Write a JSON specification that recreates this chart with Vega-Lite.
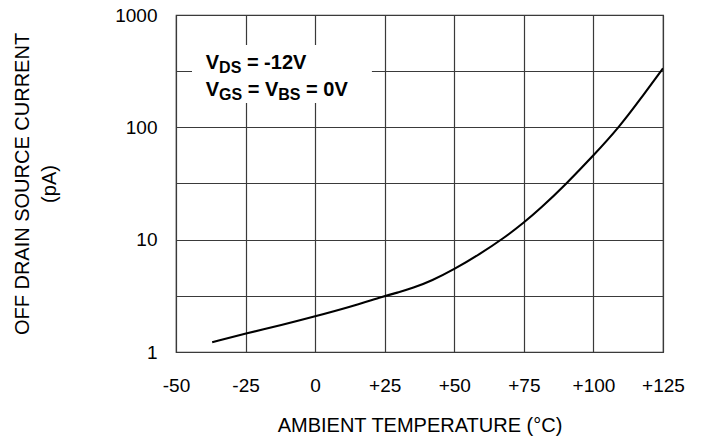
{
  "$schema": "https://vega.github.io/schema/vega-lite/v6.json",
  "width": 487,
  "height": 337,
  "autosize": "none",
  "padding": {"left": 176, "top": 15, "right": 40, "bottom": 84},
  "background": "white",
  "config": {
    "font": "Liberation Sans",
    "view": {"stroke": "#333333", "strokeWidth": 1.2},
    "axis": {
      "labelFont": "Liberation Sans",
      "titleFont": "Liberation Sans",
      "labelColor": "black",
      "titleColor": "black",
      "labelFontSize": 19,
      "titleFontSize": 20,
      "titleFontWeight": "normal",
      "ticks": false,
      "domain": false,
      "gridColor": "#3a3a3a",
      "gridWidth": 1.2,
      "gridOpacity": 1,
      "labelOverlap": false
    }
  },
  "layer": [
    {
      "data": {
        "values": [
          {"t": -37, "i": 1.22},
          {"t": -25, "i": 1.46},
          {"t": -12, "i": 1.74},
          {"t": 0, "i": 2.08},
          {"t": 12, "i": 2.5},
          {"t": 25, "i": 3.15},
          {"t": 30, "i": 3.4},
          {"t": 35, "i": 3.7},
          {"t": 42, "i": 4.32},
          {"t": 50, "i": 5.45},
          {"t": 59, "i": 7.4},
          {"t": 68, "i": 10.4},
          {"t": 75, "i": 14.2},
          {"t": 81, "i": 19},
          {"t": 90, "i": 31},
          {"t": 100, "i": 56},
          {"t": 109.5, "i": 102},
          {"t": 117, "i": 180},
          {"t": 125, "i": 335}
        ]
      },
      "mark": {"type": "line", "color": "black", "strokeWidth": 2.1, "interpolate": "basis", "clip": true},
      "encoding": {
        "x": {
          "field": "t",
          "type": "quantitative",
          "scale": {"domain": [-50, 125], "nice": false, "zero": false},
          "axis": {
            "values": [-50, -25, 0, 25, 50, 75, 100, 125],
            "labelExpr": "datum.value > 0 ? '+' + datum.value : '' + datum.value",
            "labelFlush": false,
            "labelPadding": 24,
            "title": "AMBIENT TEMPERATURE (°C)",
            "titlePadding": 20
          }
        },
        "y": {
          "field": "i",
          "type": "quantitative",
          "scale": {"type": "log", "domain": [1, 1000], "nice": false},
          "axis": {
            "values": [1, 3.1623, 10, 31.623, 100, 316.23, 1000],
            "labelExpr": "abs(log(datum.value)/LN10 - round(log(datum.value)/LN10)) < 0.01 ? format(datum.value, 'd') : ''",
            "labelPadding": 19,
            "title": ["OFF DRAIN SOURCE CURRENT", "(pA)"],
            "titleLineHeight": 27,
            "titlePadding": 55
          }
        }
      }
    },
    {
      "data": {"values": [{"note": "legend box"}]},
      "mark": {"type": "rect", "fill": "white", "stroke": null},
      "encoding": {
        "x": {"datum": -44.25, "type": "quantitative"},
        "x2": {"datum": 20.4},
        "y": {"datum": 542, "type": "quantitative"},
        "y2": {"datum": 165}
      }
    },
    {
      "data": {"values": [{"s": "V"}]},
      "mark": {"type": "text", "align": "left", "baseline": "alphabetic", "fontSize": 20, "fontWeight": "bold", "dx": 0},
      "encoding": {"x": {"datum": -39.3, "type": "quantitative"}, "y": {"datum": 328, "type": "quantitative"}, "text": {"field": "s"}}
    },
    {
      "data": {"values": [{"s": "DS"}]},
      "mark": {"type": "text", "align": "left", "baseline": "alphabetic", "fontSize": 16, "fontWeight": "bold", "dx": 13.3},
      "encoding": {"x": {"datum": -39.3, "type": "quantitative"}, "y": {"datum": 302, "type": "quantitative"}, "text": {"field": "s"}}
    },
    {
      "data": {"values": [{"s": "= -12V"}]},
      "mark": {"type": "text", "align": "left", "baseline": "alphabetic", "fontSize": 20, "fontWeight": "bold", "dx": 41.1},
      "encoding": {"x": {"datum": -39.3, "type": "quantitative"}, "y": {"datum": 328, "type": "quantitative"}, "text": {"field": "s"}}
    },
    {
      "data": {"values": [{"s": "V"}]},
      "mark": {"type": "text", "align": "left", "baseline": "alphabetic", "fontSize": 20, "fontWeight": "bold", "dx": 0},
      "encoding": {"x": {"datum": -39.3, "type": "quantitative"}, "y": {"datum": 190.5, "type": "quantitative"}, "text": {"field": "s"}}
    },
    {
      "data": {"values": [{"s": "GS"}]},
      "mark": {"type": "text", "align": "left", "baseline": "alphabetic", "fontSize": 16, "fontWeight": "bold", "dx": 13.3},
      "encoding": {"x": {"datum": -39.3, "type": "quantitative"}, "y": {"datum": 175, "type": "quantitative"}, "text": {"field": "s"}}
    },
    {
      "data": {"values": [{"s": "= V"}]},
      "mark": {"type": "text", "align": "left", "baseline": "alphabetic", "fontSize": 20, "fontWeight": "bold", "dx": 42},
      "encoding": {"x": {"datum": -39.3, "type": "quantitative"}, "y": {"datum": 190.5, "type": "quantitative"}, "text": {"field": "s"}}
    },
    {
      "data": {"values": [{"s": "BS"}]},
      "mark": {"type": "text", "align": "left", "baseline": "alphabetic", "fontSize": 16, "fontWeight": "bold", "dx": 72.5},
      "encoding": {"x": {"datum": -39.3, "type": "quantitative"}, "y": {"datum": 175, "type": "quantitative"}, "text": {"field": "s"}}
    },
    {
      "data": {"values": [{"s": "= 0V"}]},
      "mark": {"type": "text", "align": "left", "baseline": "alphabetic", "fontSize": 20, "fontWeight": "bold", "dx": 100.3},
      "encoding": {"x": {"datum": -39.3, "type": "quantitative"}, "y": {"datum": 190.5, "type": "quantitative"}, "text": {"field": "s"}}
    }
  ]
}
